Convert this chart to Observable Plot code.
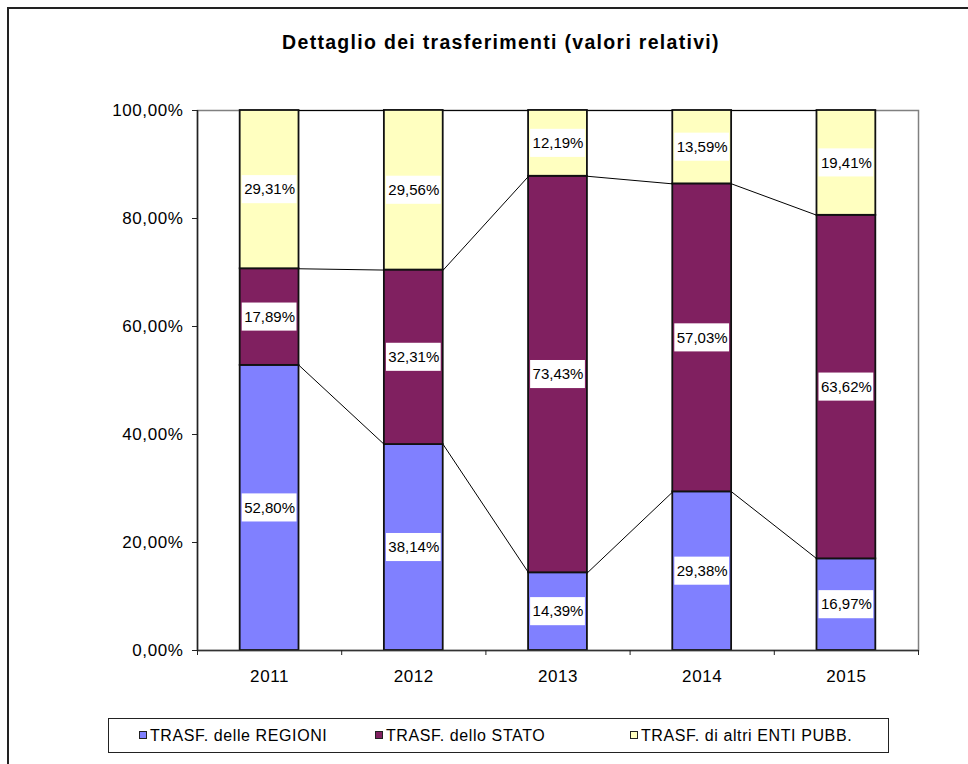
<!DOCTYPE html>
<html>
<head>
<meta charset="utf-8">
<script src="https://cdn.jsdelivr.net/npm/d3@7"></script>
<script src="https://cdn.jsdelivr.net/npm/@observablehq/plot@0.6"></script>
<style>
  body { margin: 0; background: #fff; font-family: Arial, "Liberation Sans", sans-serif; }
  #wrap { position: relative; width: 968px; height: 764px; overflow: hidden; background: #fff; }
  #frame { position: absolute; left: 7px; top: 7px; width: 1200px; height: 1000px;
           border-left: 2px solid #222; border-top: 2px solid #222; }
  #title { position: absolute; left: 0; width: 1002px; top: 31px; text-align: center;
           font-weight: bold; font-size: 19.5px; letter-spacing: 1.3px; color: #000; }
  #chart { position: absolute; left: 0; top: 0; }
  #legend { position: absolute; left: 108px; top: 718px; width: 779px; height: 33px;
            border: 1px solid #222; background: #fff; }
  .li { position: absolute; top: 0; height: 33px; line-height: 33px; font-size: 16px;
        letter-spacing: 0.6px; color: #000; white-space: nowrap; }
  .sw { position: absolute; top: 12px; width: 6px; height: 6px; border: 1px solid #222; }
  .axislbl text { font-size: 17px; letter-spacing: 0.6px; }
</style>
</head>
<body>
<div id="wrap">
  <div id="frame"></div>
  <div id="chart"></div>
  <div id="title"></div>
  <div id="legend"></div>
</div>
<script>
// ---- data ----
const years = ["2011", "2012", "2013", "2014", "2015"];
const regioni = [52.80, 38.14, 14.39, 29.38, 16.97];
const stato   = [17.89, 32.31, 73.43, 57.03, 63.62];
const altri   = [29.31, 29.56, 12.19, 13.59, 19.41];
const seriesNames = ["TRASF. delle REGIONI", "TRASF. dello STATO", "TRASF. di altri ENTI PUBB."];
const seriesColors = ["#8080FF", "#802060", "#FFFFC0"];
const yTicks = [0, 20, 40, 60, 80, 100];
const titleText = "Dettaglio dei trasferimenti (valori relativi)";

// ---- build tables ----
const series = [regioni, stato, altri];
const hw = 0.204;          // half bar width in category units
const boxHalfW = 0.19;     // label box half width (category units)
const boxHalfH = 2.6;      // label box half height (percent units)
const fmt = v => v.toFixed(2).replace(".", ",") + "%";

const segs = [];
years.forEach((yr, i) => {
  let cum = 0;
  series.forEach((vals, s) => {
    const v = vals[i];
    segs.push({ i, s, y1: cum, y2: cum + v, mid: cum + v / 2, v, color: seriesColors[s] });
    cum += v;
  });
});
const tops = series.map((_, s) => years.map((_, i) => segs.find(d => d.i === i && d.s === s).y2));
const links = [];
series.forEach((_, s) => {
  for (let i = 0; i < years.length - 1; i++) {
    links.push({ x1: i + hw, x2: i + 1 - hw, y1: tops[s][i], y2: tops[s][i + 1] });
  }
});

const plot = Plot.plot({
  width: 968,
  height: 700,
  marginLeft: 197,
  marginRight: 50,
  marginTop: 110,
  marginBottom: 50,
  style: { fontFamily: "Arial, 'Liberation Sans', sans-serif", fontSize: "16px", color: "#000", background: "transparent" },
  x: { domain: [-0.5, years.length - 0.5] },
  y: { domain: [0, 100] },
  color: { type: "identity" },
  marks: [
    Plot.frame({ stroke: "#808080", strokeWidth: 1.5 }),
    Plot.rect(segs, { x1: d => d.i - hw, x2: d => d.i + hw, y1: "y1", y2: "y2",
                      fill: "color", stroke: "#111", strokeWidth: 1.8 }),
    Plot.link(links, { x1: "x1", x2: "x2", y1: "y1", y2: "y2", stroke: "#000", strokeWidth: 1 }),
    Plot.rect(segs, { x1: d => d.i - boxHalfW, x2: d => d.i + boxHalfW,
                      y1: d => d.mid - boxHalfH, y2: d => d.mid + boxHalfH, fill: "white" }),
    Plot.text(segs, { x: "i", y: "mid", text: d => fmt(d.v), fill: "#000",
                      fontSize: 15, textAnchor: "middle", lineAnchor: "middle" }),
    Plot.ruleX([-0.5], { stroke: "#222", strokeWidth: 1.5 }),
    Plot.ruleY([0], { stroke: "#333", strokeWidth: 1.5 }),
    Plot.axisY({ ticks: yTicks, tickFormat: d => d.toFixed(2).replace(".", ",") + "%",
                 tickSize: 5, tickPadding: 9, stroke: "#222", className: "axislbl" }),
    Plot.axisX({ ticks: d3.range(-0.5, years.length, 1), tickFormat: () => "",
                 tickSize: 5, stroke: "#222" }),
    Plot.axisX({ ticks: d3.range(0, years.length), tickFormat: i => years[i],
                 tickSize: 0, tickPadding: 19, className: "axislbl" })
  ]
});
document.getElementById("chart").appendChild(plot);
document.getElementById("title").textContent = titleText;

// legend
const legend = document.getElementById("legend");
const legendX = [30, 266, 521];
seriesNames.forEach((name, s) => {
  const sw = document.createElement("div");
  sw.className = "sw";
  sw.style.left = legendX[s] + "px";
  sw.style.background = seriesColors[s];
  legend.appendChild(sw);
  const t = document.createElement("div");
  t.className = "li";
  t.style.left = (legendX[s] + 11) + "px";
  t.textContent = name;
  legend.appendChild(t);
});
</script>
</body>
</html>
